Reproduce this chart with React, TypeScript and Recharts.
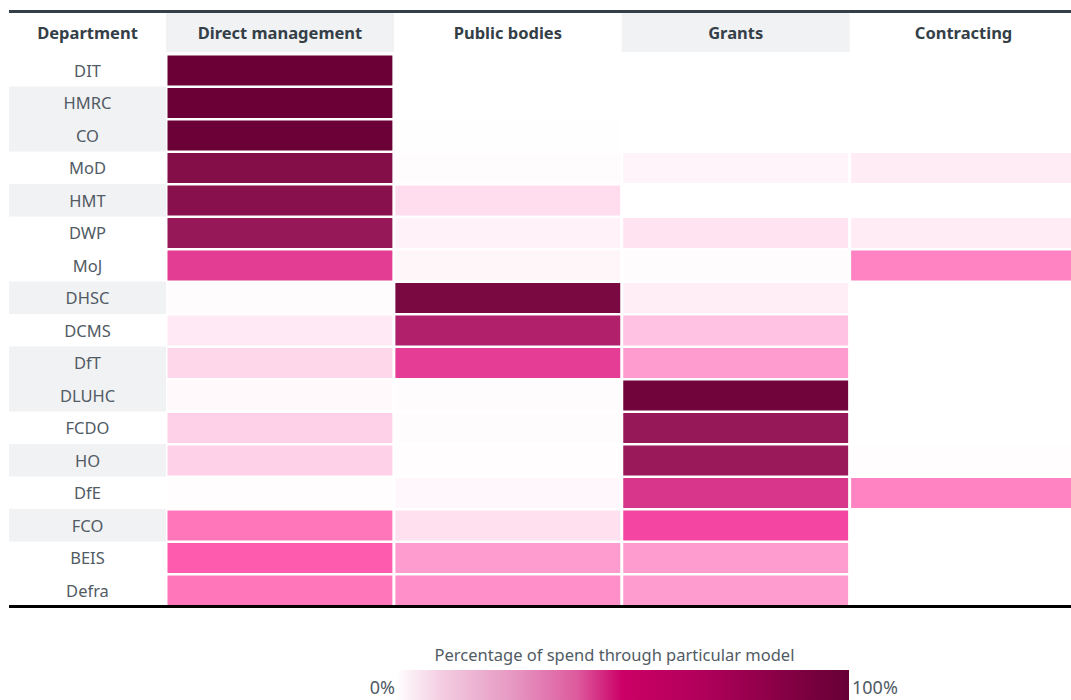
import React from "react";
import { BarChart, Bar, XAxis, YAxis } from "recharts";

const departments = ["DIT", "HMRC", "CO", "MoD", "HMT", "DWP", "MoJ", "DHSC", "DCMS", "DfT", "DLUHC", "FCDO", "HO", "DfE", "FCO", "BEIS", "Defra"];
const shadedRows = [false, true, true, false, true, false, false, true, false, true, true, false, true, false, true, false, false];

const columns = ["Direct management", "Public bodies", "Grants", "Contracting"];
const shadedColumns = [true, false, true, false];

// % of spend through each model
const directManagement = [100, 100, 99.5, 88, 86, 80, 58, 1, 7, 13, 2, 15, 15, 0.5, 36, 40, 36];
const publicBodies = [0, 0, 0.3, 1, 11, 4, 3, 92, 71, 57, 1, 1, 0.7, 2.5, 10, 30, 32];
const grants = [0, 0, 0, 3.5, 0, 9, 1, 5.5, 20, 30, 96.5, 80, 79, 61.5, 50, 30, 30];
const contracting = [0, 0, 0, 6, 0, 6, 34, 0, 0, 0, 0, 0, 0.5, 34, 0, 0, 0];

const columnKeys = ["dm", "pb", "gr", "co"];
const columnValues = [directManagement, publicBodies, grants, contracting];

const data = departments.map((dept, i) => {
  const row: any = { dept };
  columnKeys.forEach((k, c) => {
    row[k] = columnValues[c][i];
    row[k + "Span"] = 1;
  });
  return row;
});

const colorStops: [number, string][] = [
  [0, "#ffffff"], [10, "#ffe0ef"], [20, "#ffc2e2"], [30, "#ff9ccf"], [36, "#ff76bb"],
  [40, "#ff5bae"], [50, "#f445a2"], [60, "#df3a8f"], [70, "#b3216d"], [80, "#961858"],
  [90, "#7e0b44"], [100, "#6a0035"],
];

const hex = (s: string) => [1, 3, 5].map((o) => parseInt(s.slice(o, o + 2), 16));

function heatColor(v: number) {
  for (let i = 1; i < colorStops.length; i++) {
    const [v1, c1] = colorStops[i];
    const [v0, c0] = colorStops[i - 1];
    if (v <= v1) {
      const t = (v - v0) / (v1 - v0);
      const a = hex(c0);
      const b = hex(c1);
      return `rgb(${a.map((x, j) => Math.round(x + (b[j] - x) * t)).join(",")})`;
    }
  }
  return colorStops[colorStops.length - 1][1];
}

const FONT = "'Noto Sans', sans-serif";
const GREY_BG = "#f1f2f4";
const HEAD_TEXT = "#343f48";
const LABEL_TEXT = "#515b64";
const ROW_H = 32.5;
const COL_W = 228;

const cellShape = (key: string) => (props: any) => {
  const { x, y, width, height, payload } = props;
  return (
    <rect
      x={x + 1.5}
      y={y + 1.5}
      width={Math.max(0, width - 3)}
      height={Math.max(0, height - 3)}
      fill={heatColor(payload[key])}
    />
  );
};

const HeaderTick = (props: any) => {
  const { x, payload } = props;
  const i = Math.floor(payload.value);
  return (
    <g>
      {shadedColumns[i] && <rect x={x - COL_W / 2} y={13} width={COL_W} height={39} fill={GREY_BG} />}
      <text x={x} y={32} textAnchor="middle" dominantBaseline="central" fontFamily={FONT} fontSize={16.5} fontWeight={700} fill={HEAD_TEXT}>
        {columns[i]}
      </text>
    </g>
  );
};

const DeptTick = (props: any) => {
  const { y, payload } = props;
  const i = departments.indexOf(payload.value);
  return (
    <g>
      {shadedRows[i] && <rect x={9} y={y - ROW_H / 2} width={157} height={ROW_H} fill={GREY_BG} />}
      <text x={87.5} y={y} textAnchor="middle" dominantBaseline="central" fontFamily={FONT} fontSize={16.5} fill={LABEL_TEXT}>
        {payload.value}
      </text>
    </g>
  );
};

export default function App() {
  return (
    <div style={{ position: "absolute", left: 0, top: 0, width: 1071, height: 700, overflow: "hidden", background: "#fff", fontFamily: FONT }}>
      <BarChart
        width={1080}
        height={700}
        data={data}
        layout="vertical"
        barCategoryGap={0}
        margin={{ top: 13, right: 2.5, left: 9, bottom: 93.5 }}
      >
        <XAxis
          type="number"
          orientation="top"
          domain={[0, 4]}
          ticks={[0.5, 1.5, 2.5, 3.5]}
          interval={0}
          height={41}
          axisLine={false}
          tickLine={false}
          tick={<HeaderTick />}
        />
        <YAxis
          type="category"
          dataKey="dept"
          width={157}
          interval={0}
          axisLine={false}
          tickLine={false}
          tick={<DeptTick />}
        />
        {columnKeys.map((k) => (
          <Bar key={k} dataKey={k + "Span"} stackId="cells" shape={cellShape(k)} isAnimationActive={false} />
        ))}
      </BarChart>

      <div style={{ position: "absolute", left: 9, top: 10, width: 1062, height: 3, background: HEAD_TEXT }} />
      <div style={{ position: "absolute", left: 9, top: 13, width: 157, height: 38, display: "flex", alignItems: "center", justifyContent: "center", fontSize: 16.5, fontWeight: 700, color: HEAD_TEXT }}>
        Department
      </div>
      <div style={{ position: "absolute", left: 9, top: 605, width: 1062, height: 3, background: "#000" }} />

      <div style={{ position: "absolute", left: 614.5, top: 644, transform: "translateX(-50%)", whiteSpace: "nowrap", fontSize: 16.5, lineHeight: "22px", color: LABEL_TEXT }}>
        Percentage of spend through particular model
      </div>
      <div
        style={{
          position: "absolute", left: 396, top: 670, width: 453, height: 30,
          background: "linear-gradient(to right, #ffffff 0%, #f3cde1 10%, #e697c2 26%, #dd5a9e 40%, #cc0066 50%, #b0005a 68%, #8a0047 84%, #660035 100%)",
        }}
      />
      <div style={{ position: "absolute", right: 1071 - 395, top: 677, fontSize: 18, lineHeight: "20px", color: LABEL_TEXT }}>0%</div>
      <div style={{ position: "absolute", left: 852, top: 677, fontSize: 18, lineHeight: "20px", color: LABEL_TEXT }}>100%</div>
    </div>
  );
}
